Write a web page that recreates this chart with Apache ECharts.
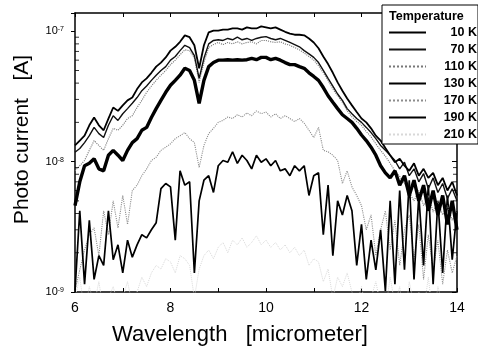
<!DOCTYPE html>
<html><head><meta charset="utf-8">
<script src="https://cdn.jsdelivr.net/npm/echarts@6/dist/echarts.min.js"></script>
<style>html,body{margin:0;padding:0;background:#fff}#c{width:478px;height:351px}</style>
</head><body><div id="c"></div>
<script>
// Wavelength (micrometer)
const wavelength = [6.0,6.1,6.2,6.3,6.4,6.5,6.6,6.7,6.8,6.9,
 7.0,7.1,7.2,7.3,7.4,7.5,7.6,7.7,7.8,7.9,
 8.0,8.1,8.2,8.3,8.4,8.5,8.6,8.7,8.8,8.9,
 9.0,9.1,9.2,9.3,9.4,9.5,9.6,9.7,9.8,9.9,
 10.0,10.1,10.2,10.3,10.4,10.5,10.6,10.7,10.8,10.9,
 11.0,11.1,11.2,11.3,11.4,11.5,11.6,11.7,11.8,11.9,
 12.0,12.1,12.2,12.3,12.4,12.5,12.6,12.7,12.8,12.9,
 13.0,13.1,13.2,13.3,13.4,13.5,13.6,13.7,13.8,13.9,14.0];

// Photo current in nA (1 nA = 1e-9 A)
const t10K = [13.3,14.5,15.8,19,21.8,19,17.4,21.4,26,24.5,
 27,29.5,31,36,40.5,43.5,48,53.5,57.5,63,
 71,76,83,93,90,78,52,78,98,101,
 101,103,103,105,105,103,107,105,105,109,
 107,105,107,103,99,96,94,94,93,88,
 82,74,64,56,48,40.5,35,30.5,27,24,
 21.4,20,18,15.8,14.5,12.7,11.2,9.9,10.5,9.3,
 8.5,9.7,7.8,8.8,7.5,8.2,6.6,7.5,6.0,7.0,5.5];
const t70K = [11.8,12.6,14,15.8,18.3,16.4,15.3,19,22.5,20.7,
 23.3,25.5,28,31,35,38,42,46,50,53.5,
 60,64,71,78,75,65,43.5,62,80,85,
 86,85,88,86,90,86,88,85,88,90,
 91,88,86,88,85,82,79,76,71,67,
 63,57.5,50,43.5,38,33,29.5,25.5,23.3,21.4,
 20,18.3,16.7,15,13.3,12.2,11.2,10.2,8.8,9.9,
 7.8,8.8,7.0,8.1,6.2,7.5,5.8,6.8,5.2,6.2,5.0];
const t110K = [8.5,9.3,10.2,12.2,14.5,13.3,12.2,15,18,17.4,
 19,21.4,22.5,26,29.5,34,38,42,46,50,
 55.5,60,66,72,71,62,40.5,57.5,75,79,
 82,79,82,80,83,80,82,83,80,85,
 85,83,82,83,80,78,75,72,68,64,
 60,54.5,48,42,36,32,28.5,24.5,22,20.3,
 19,17,15.5,13.7,12.2,11,9.7,8.5,7.7,6.8,
 5.8,5.0,6.0,4.6,5.5,4.1,5.0,3.9,4.6,3.55,4.2];
const t130K = [4.6,7.0,9.3,9.7,10.5,8.8,8.5,11.2,12.2,11.2,
 10.2,12.2,14,15,17.4,18.3,21.8,25.5,29.5,34,
 38.5,42,46,52,50,42,28,42,53.5,57.5,
 60,60,60.5,60,60.5,60,60.5,62,60.5,63,
 63,60.5,62,60,57.5,55.5,55.5,53.5,52,48,
 45,42,37,32,28.5,25.5,22.9,21.4,20,18,
 16,14.5,12.9,11.2,9.3,8.2,7.5,8.5,6.6,7.8,
 5.5,7.2,5.0,6.6,4.2,6.0,3.9,5.5,3.3,5.0,3.0];
const t170K = [1.02,1.48,2.1,2.75,3.1,1.9,4.2,2.75,5.0,3.1,
 5.5,3.3,6.0,6.6,7.8,8.8,10.2,10.8,12.2,12.9,
 13.7,15,15.8,16.7,15,14,9.0,13.3,16.4,18,
 20,20.7,22,21.4,22.9,22,23.6,22.5,24.5,23.3,
 24,22,23.3,21.4,22.5,21.4,20.3,21.4,19.7,17.4,
 15.3,18.3,12.2,11.9,11.2,10.2,6.8,8.5,6.4,5.5,
 4.6,3.0,3.9,1.9,3.0,4.2,2.1,3.55,1.6,3.0,
 3.9,1.77,3.3,1.25,2.75,1.48,2.5,1.15,2.1,1.4,1.9];
const t190K = [1.02,4.2,1.15,3.55,1.25,1.9,1.6,4.2,1.77,2.3,
 1.4,2.5,1.85,2.3,2.75,2.6,3.0,3.4,6.2,6.8,
 6.4,2.5,8.5,6.6,7.0,1.4,5.0,7.2,7.8,5.8,
 9.3,10.2,9.9,11.9,9.7,11.2,10.2,8.8,11.2,9.9,
 10.5,9.3,10.2,8.5,8.8,7.8,9.3,8.5,9.3,5.5,
 7.8,8.2,2.75,6.6,1.9,5.0,3.9,5.5,4.2,1.6,
 3.3,1.25,2.5,1.48,3.0,1.02,5.0,1.15,6.0,1.48,
 7.2,1.25,5.5,1.6,6.6,1.15,5.0,1.4,5.5,1.77,4.2];
const t210K = [0.9,1.3,0.7,1.1,0.8,1.2,0.7,0.9,1.1,0.8,
 0.9,1.2,0.8,1.0,1.3,1.1,1.4,1.6,1.5,1.8,
 1.7,1.4,1.9,1.8,1.6,0.9,1.5,1.9,2.1,1.8,
 2.2,2.4,2.0,2.5,2.3,2.6,2.2,2.4,2.7,2.3,
 2.5,2.2,2.4,2.1,2.3,2.0,2.2,1.9,2.1,1.6,
 1.8,1.7,1.2,1.5,0.9,1.3,1.1,1.4,1.0,0.8,
 1.1,0.7,0.9,1.2,0.8,0.7,1.3,0.8,1.1,0.6,
 1.2,0.8,1.0,0.7,1.3,0.6,1.1,0.8,0.9,0.7,1.0];

const seriesNames = ['10 K','70 K','110 K','130 K','170 K','190 K','210 K'];
const seriesValues = [t10K,t70K,t110K,t130K,t170K,t190K,t210K];
const yTickExponents = {1:'-9', 10:'-8', 100:'-7'};
const minorTickValues = [2,3,4,5,6,7,8,9,20,30,40,50,60,70,80,90];

const FONT = '"Liberation Sans", Arial, sans-serif';
const styles = [
  {color:'#000', width:1.8, type:'solid'},
  {color:'#111', width:1.4, type:'solid'},
  {color:'#777', width:1.1, type:'dotted'},
  {color:'#000', width:3.4, type:'solid'},
  {color:'#8c8c8c', width:1.1, type:'dotted'},
  {color:'#000', width:1.7, type:'solid'},
  {color:'#d8d8d8', width:1, type:'dotted'}
];
const drawOrder = [6,4,5,2,1,0,3];

const chart = echarts.init(document.getElementById('c'));
const series = drawOrder.map(i => ({
  name: seriesNames[i], type: 'line', symbol: 'none', animation: false,
  data: wavelength.map((w, k) => [w, seriesValues[i][k]]),
  lineStyle: {color: styles[i].color, width: styles[i].width, type: styles[i].type},
  itemStyle: {color: styles[i].color}
}));
series.push({type:'scatter', name:'minorL', data: minorTickValues.map(v=>[6,v]), symbol:'rect',
  symbolSize:[4,1], symbolOffset:[2,0], itemStyle:{color:'#000'}, silent:true, clip:false, z:3});
series.push({type:'scatter', name:'minorR', data: minorTickValues.map(v=>[14,v]), symbol:'rect',
  symbolSize:[4,1], symbolOffset:[-2,0], itemStyle:{color:'#000'}, silent:true, clip:false, z:3});

const axisLine = {show:true, lineStyle:{color:'#000', width:1.5}};
chart.setOption({
  animation: false,
  backgroundColor: '#fff',
  title: {text:'Temperature', left:389, top:10, padding:0, z:12,
    textStyle:{fontFamily:FONT, fontSize:12.5, fontWeight:'bold', color:'#000'}},
  grid: {left:75, right:21, top:13, bottom:59},
  legend: {
    data: seriesNames, orient:'vertical', left:382, top:5, z:10,
    padding:[21,1,3,6], itemWidth:37, itemHeight:14, itemGap:4,
    backgroundColor:'#fff', borderColor:'#000', borderWidth:1, borderRadius:0,
    selectedMode:false,
    itemStyle:{opacity:0},
    formatter: n => '{r|' + n + '}',
    textStyle:{fontFamily:FONT, fontSize:12.5, fontWeight:'bold', color:'#000',
      rich:{r:{width:46, align:'right', fontFamily:FONT, fontSize:12.5, fontWeight:'bold', color:'#000'}}}
  },
  xAxis: [
    {type:'value', position:'bottom', min:6, max:14, interval:2,
      axisLine: axisLine, axisTick:{show:true, inside:true, length:4, lineStyle:{color:'#000'}},
      minorTick:{show:true, splitNumber:2, length:4, lineStyle:{color:'#000'}},
      axisLabel:{color:'#000', fontFamily:FONT, fontSize:14, margin:9},
      splitLine:{show:false},
      name:'Wavelength   [micrometer]', nameLocation:'middle', nameGap:32,
      nameTextStyle:{fontFamily:FONT, fontSize:22, color:'#000', padding:[0,52,0,0]}},
    {type:'value', position:'top', min:6, max:14, interval:1,
      axisLine: axisLine, axisTick:{show:true, inside:true, length:4, lineStyle:{color:'#000'}},
      axisLabel:{show:false}, splitLine:{show:false}}
  ],
  yAxis: [
    {type:'log', logBase:10, min:1, max:138, position:'left',
      axisLine: axisLine, axisTick:{show:true, inside:false, length:4, lineStyle:{color:'#000'}},
      axisLabel:{color:'#000', fontFamily:FONT, margin:11,
        formatter: v => { const e = yTickExponents[Math.round(v)]; return e ? '{b|10}{s|' + e + '}' : ''; },
        rich:{b:{fontFamily:FONT, fontSize:11, color:'#000'},
              s:{fontFamily:FONT, fontSize:7, color:'#000', verticalAlign:'top'}}},
      splitLine:{show:false},
      name:'Photo current   [A]', nameLocation:'middle', nameGap:42,
      nameTextStyle:{fontFamily:FONT, fontSize:21, color:'#000', padding:[0,0,0,26]}},
    {type:'log', logBase:10, min:1, max:138, position:'right',
      axisLine: axisLine, axisTick:{show:true, inside:true, length:5, lineStyle:{color:'#000'}},
      axisLabel:{show:false}, splitLine:{show:false}}
  ],
  series: series
});
</script></body></html>
